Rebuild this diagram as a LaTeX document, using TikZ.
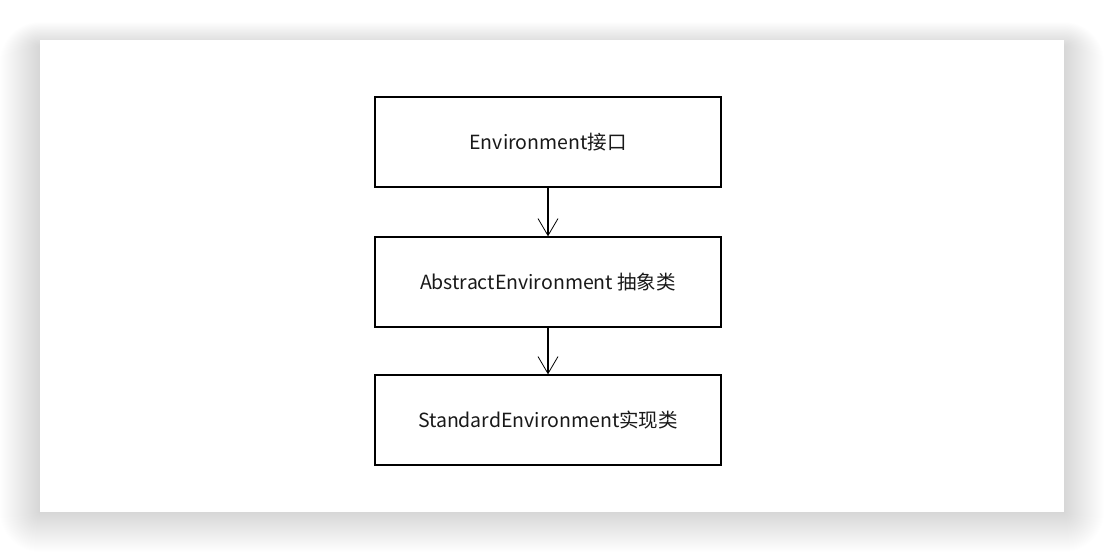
\documentclass[tikz,border=0pt]{standalone}
\usepackage{fontspec}
\setmainfont{Noto Sans CJK SC}
\usetikzlibrary{arrows.meta}
\tikzset{
  box/.style={draw=black, line width=1.3pt, minimum width=346pt, minimum height=90pt, inner sep=0pt, font=\fontsize{19.5}{22}\selectfont, text=black!90},
  link/.style={draw=black, line width=1.3pt, -{Straight Barb[length=17pt,width=20pt,line width=0.8pt]}}
}
\begin{document}
\begin{tikzpicture}[x=1pt,y=-1pt]
\useasboundingbox (0,0) rectangle (1104,552);
\fill[white] (0,0) rectangle (1104,552);
\foreach \i in {1,...,40}{
  \fill[black, opacity=0.0022, rounded corners=\i pt] (40-\i,40-\i*0.6+6) rectangle (1064+\i,512+\i);
}
\fill[white] (40,40) rectangle (1064,512);
\node[box] (a) at (548,142) {Environment接口};
\node[box] (b) at (548,282) {AbstractEnvironment 抽象类};
\node[box] (c) at (548,420) {StandardEnvironment实现类};
\draw[link] (a) -- (b);
\draw[link] (b) -- (c);
\end{tikzpicture}
\end{document}
